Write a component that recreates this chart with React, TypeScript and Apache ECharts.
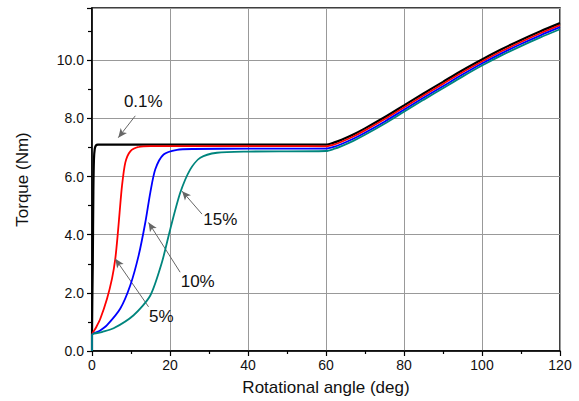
import React, { useEffect, useRef } from "react";
import * as echarts from "echarts";

// 0.1 %
const angleA = [0, 0, 0.2, 0.35, 0.5, 0.7, 1.0, 1.5, 10, 30, 50, 60, 62, 64, 67, 70, 75, 80, 85, 90, 95, 100, 105, 110, 115, 120];
const torqueA = [0, 0.55, 3.0, 5.5, 6.6, 6.95, 7.07, 7.1, 7.1, 7.1, 7.1, 7.1, 7.17, 7.27, 7.45, 7.66, 8.04, 8.45, 8.86, 9.26, 9.66, 10.03, 10.38, 10.7, 11.0, 11.28];
// 5 %
const angleB = [0, 0, 1, 2.13, 3.85, 5.13, 5.97, 6.57, 7.08, 7.69, 8.54, 9.82, 11.95, 15, 30, 50, 60, 62, 64, 67, 70, 75, 80, 85, 90, 95, 100, 105, 110, 115, 120];
const torqueB = [0, 0.55, 0.8, 1.11, 1.8, 2.49, 3.17, 3.97, 4.77, 5.68, 6.48, 6.87, 7.02, 7.05, 7.05, 7.05, 7.04, 7.1, 7.2, 7.38, 7.59, 7.97, 8.38, 8.79, 9.19, 9.59, 9.96, 10.31, 10.63, 10.93, 11.21];
// 10 %
const angleC = [0, 0, 2, 3.85, 7.26, 9.82, 11.95, 13.67, 14.95, 16.23, 18.36, 21.8, 26, 40, 60, 62, 64, 67, 70, 75, 80, 85, 90, 95, 100, 105, 110, 115, 120];
const torqueC = [0, 0.55, 0.7, 0.89, 1.46, 2.26, 3.28, 4.42, 5.45, 6.25, 6.76, 6.92, 6.95, 6.96, 6.96, 7.02, 7.12, 7.3, 7.51, 7.89, 8.3, 8.71, 9.11, 9.51, 9.89, 10.24, 10.56, 10.86, 11.14];
// 15 %
const angleD = [0, 0, 2.5, 5.54, 10.67, 14.95, 17.95, 20.08, 22.64, 25.2, 27.77, 32.05, 39.7, 60, 62, 64, 67, 70, 75, 80, 85, 90, 95, 100, 105, 110, 115, 120];
const torqueD = [0, 0.55, 0.65, 0.78, 1.23, 1.91, 3.06, 4.2, 5.45, 6.25, 6.65, 6.82, 6.86, 6.88, 6.95, 7.05, 7.23, 7.44, 7.82, 8.23, 8.64, 9.04, 9.44, 9.82, 10.17, 10.49, 10.79, 11.07];

const seriesNames = ["0.1%", "5%", "10%", "15%"];
const seriesColors = ["#000000", "#ff0000", "#0000ff", "#00857d"];

// annotation labels: text position, arrow start, arrow tip (data coordinates)
const noteLabels = ["0.1%", "5%", "10%", "15%"];
const noteText = [[13.15, 8.57], [17.77, 1.19], [27.1, 2.38], [32.9, 4.54]];
const noteFrom = [[11.1, 8.09], [14.5, 1.52], [22.6, 2.71], [28.2, 4.71]];
const noteTip = [[6.74, 7.34], [5.97, 3.17], [14.5, 4.42], [23.1, 5.5]];

const xTicks = { min: 0, max: 120, interval: 20 };
const yTicks = { min: 0, max: 11.8, interval: 2 };

const FONT = "Liberation Sans, Arial, sans-serif";

function pairs(xs: number[], ys: number[]) {
  return xs.map((x, i) => [x, ys[i]]);
}

export default function App() {
  const ref = useRef<HTMLDivElement>(null);
  useEffect(() => {
    if (!ref.current) return;
    const chart = echarts.init(ref.current, null, { renderer: "svg" });
    const datasets = [pairs(angleA, torqueA), pairs(angleB, torqueB), pairs(angleC, torqueC), pairs(angleD, torqueD)];
    const lineSeries = datasets.map((d, i) => ({
      type: "line",
      name: seriesNames[i],
      data: d,
      showSymbol: false,
      smooth: 0.25,
      lineStyle: { color: seriesColors[i], width: i === 0 ? 2.2 : 1.8 },
      itemStyle: { color: seriesColors[i] },
      silent: true,
      z: 3 + i,
    }));
    const noteSeries = {
      type: "line",
      data: [],
      silent: true,
      z: 10,
      markLine: {
        silent: true,
        symbol: ["none", "arrow"],
        symbolSize: [6, 9],
        label: { show: false },
        lineStyle: { color: "#666", width: 1, type: "solid" },
        data: noteFrom.map((f, i) => [{ coord: f }, { coord: noteTip[i] }]),
      },
      markPoint: {
        silent: true,
        symbol: "circle",
        symbolSize: 0,
        label: {
          show: true,
          position: "inside",
          color: "#111",
          fontSize: 17,
          fontFamily: FONT,
          formatter: (p: any) => p.name,
        },
        data: noteText.map((t, i) => ({ name: noteLabels[i], coord: t })),
      },
    };
    chart.setOption({
      animation: false,
      backgroundColor: "#ffffff",
      grid: {
        left: 92,
        top: 8,
        right: 19,
        bottom: 48,
        show: true,
        borderColor: "#000",
        borderWidth: 1.5,
        backgroundColor: "transparent",
      },
      xAxis: [
        {
          type: "value",
          min: xTicks.min,
          max: xTicks.max,
          interval: xTicks.interval,
          name: "Rotational angle (deg)",
          nameLocation: "middle",
          nameGap: 28,
          nameTextStyle: { color: "#111", fontSize: 17, fontFamily: FONT },
          axisLine: { show: true, lineStyle: { color: "#000", width: 1.5 } },
          axisTick: { show: true, inside: false, length: 5, lineStyle: { color: "#000", width: 1.2 } },
          minorTick: { show: true, splitNumber: 2, length: 3, lineStyle: { color: "#000", width: 1.2 } },
          axisLabel: { color: "#111", fontSize: 14, fontFamily: FONT, margin: 7 },
          splitLine: { show: true, lineStyle: { color: "#999", width: 1 } },
        },
      ],
      yAxis: [
        {
          type: "value",
          min: yTicks.min,
          max: yTicks.max,
          interval: yTicks.interval,
          name: "Torque (Nm)",
          nameLocation: "middle",
          nameGap: 61,
          nameTextStyle: { color: "#111", fontSize: 17, fontFamily: FONT },
          axisLine: { show: true, lineStyle: { color: "#000", width: 1.5 } },
          axisTick: { show: true, inside: false, length: 5, lineStyle: { color: "#000", width: 1.2 } },
          minorTick: { show: true, splitNumber: 2, length: 4, lineStyle: { color: "#000", width: 1.2 } },
          axisLabel: {
            color: "#111",
            fontSize: 14,
            fontFamily: FONT,
            margin: 8,
            showMaxLabel: false,
            formatter: (v: number) => v.toFixed(1),
          },
          splitLine: { show: true, lineStyle: { color: "#999", width: 1 } },
        },
      ],
      series: [...lineSeries, noteSeries],
    });
    return () => chart.dispose();
  }, []);
  return (
    <div
      ref={ref}
      style={{ position: "fixed", left: 0, top: 0, width: 579, height: 401, background: "#fff" }}
    />
  );
}
